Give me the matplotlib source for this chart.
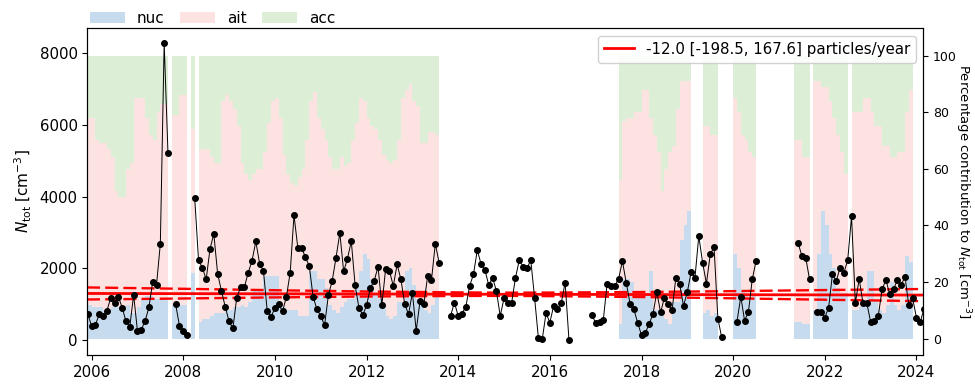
import numpy as np
import pandas as pd
import matplotlib
matplotlib.use('Agg')
import matplotlib.pyplot as plt
from matplotlib.patches import Patch

nan = np.nan

# #
# Data (monthly means, first month = Nov 2005)
# #
first_month = '2005-11'

n_tot = [
    720, 400, 425, 720, 660, 820, 1170, 1025, 1210, 905, 520, 375,          # 0-11
    1260, 260, 290, 530, 910, 1625, 1545, 2690, 8280, 5200, nan, 1000,       # 12-23
    400, 260, 145, nan, 3955, 2220, 2020, 1690, 2540, 2960, 1850, 1370,      # 24-35
    925, 520, 325, 1185, 1470, 1470, 1880, 2210, 2750, 2130, 1925, 800,      # 36-47
    655, 890, 1000, 800, 1205, 1880, 3480, 2570, 2570, 2305, 2065, 1205,     # 48-59
    860, 675, 410, 1250, 1650, 2295, 2985, 1915, 2270, 2755, 1530, 900,      # 60-71
    700, 965, 1460, 1650, 2045, 970, 1990, 1925, 1510, 2110, 1690, 1000,     # 72-83
    720, 1325, 260, 1090, 1000, 1785, 1675, 2685, 2160, nan, nan, 675,       # 84-95
    1045, 675, 740, 935, 1510, 1835, 2510, 2110, 1955, 1530, 1740, 1370,     # 96-107
    675, 1165, 1030, 1045, 1740, 2230, 2045, 2000, 2230, 1185, 50, 20,       # 108-119
    750, 490, 955, 860, 1045, 1600, 10, nan, nan, nan, nan, nan,             # 120-131
    710, 470, 510, 560, 1575, 1510, 1510, 1710, 2200, 1600, 1020, 860,       # 132-143
    480, 140, 195, 460, 720, 1340, 770, 1185, 1000, 830, 1740, 1555,         # 144-155
    955, 1340, 1900, 1740, 2900, 2160, 1575, 2390, 2590, 600, 75, nan,       # 156-167
    nan, nan, 510, 1210, 540, 790, 1695, 2205, nan, nan, nan, nan,           # 168-179
    nan, nan, nan, nan, nan, nan, 2710, 2345, 2300, 1695, nan, 770,          # 180-191
    770, 630, 905, 1835, 1650, 2020, 1880, 2230, 3450, 1030, 1710, 1030,     # 192-203
    1030, 510, 540, 675, 1415, 1675, 1280, 1415, 1675, 1530, 1770, 970,      # 204-215
    1160, 630, 510, 880,                                                     # 216-219
]

# percentage of N_tot in the nucleation mode
nuc_pct = [
    12, 12, 11, 11, 11, 10, 9, 11, 12, 11, 10, 12,
    9, 9, 11, 14, 15, 15, 14, 14, 14, 14, nan, 12,
    12, 12, 12, nan, 23, nan, 6, 7, 7, 8, 9, 9,
    9, 10, 10, 11, 11, 12, 11, 13, 17, 17, 17, 22,
    22, 22, 22, 11, 11, 10, 10, 10, 8, 8, 8, 24,
    24, 21, 21, 18, 12, 10, 9, 11, 13, 14, 14, 18,
    24, 30, 28, 21, 16, 14, 12, 8, 7, 8, 13, 13,
    24, 25, 19, 14, 13, 10, 9, 12, 16, nan, nan, nan,
    nan, nan, nan, nan, nan, nan, nan, nan, nan, nan, nan, nan,
    nan, nan, nan, nan, nan, nan, nan, nan, nan, nan, nan, nan,
    nan, nan, nan, nan, nan, nan, nan, nan, nan, nan, nan, nan,
    nan, nan, nan, nan, nan, nan, nan, nan, 5, 21, 21, 20,
    15, 15, 15, 15, 24, 10, 10, 10, 7, 5, 13, 13,
    35, 40, 45, nan, nan, nan, 9, 10, 8, 9, nan, nan,
    nan, nan, 30, 25, 17, 15, 14, 16, nan, nan, nan, nan,
    nan, nan, nan, nan, nan, nan, 6, 6, 5, 5, nan, 10,
    30, 45, 40, 30, 25, 18, 16, 16, nan, 10, 10, 11,
    12, 24, 24, 14, 10, 9, 12, 20, 12, 10, 12, 29,
    27, nan, nan, nan,
]

# cumulative percentage nucleation + Aitken (rest is accumulation)
nuc_ait_pct = [
    78, 78, 78, 70, 69, 69, 67, 64, 52, 50, 50, 60,
    62, 85, 85, 85, 78, 72, 70, 80, 83, 83, nan, 79,
    79, 86, 86, nan, 74, nan, 67, 67, 67, 64, 62, 62,
    84, 86, 84, 81, 75, 62, 58, 56, 58, 60, 60, 66,
    76, 84, 85, 78, 65, 58, 55, 54, 57, 60, 70, 84,
    87, 78, 74, 70, 64, 60, 60, 64, 61, 62, 70, 76,
    85, 84, 78, 75, 74, 70, 65, 63, 62, 63, 70, 85,
    88, 90, 84, 82, 69, 69, 73, 73, 72, nan, nan, nan,
    nan, nan, nan, nan, nan, nan, nan, nan, nan, nan, nan, nan,
    nan, nan, nan, nan, nan, nan, nan, nan, nan, nan, nan, nan,
    nan, nan, nan, nan, nan, nan, nan, nan, nan, nan, nan, nan,
    nan, nan, nan, nan, nan, nan, nan, nan, 56, 77, 78, 78,
    80, 80, 88, 88, 78, 72, 66, 52, 60, 66, 68, 81,
    91, 91, 91, nan, nan, nan, 75, 75, 72, 72, nan, nan,
    nan, nan, 85, 80, 72, 70, 66, 64, nan, nan, nan, nan,
    nan, nan, nan, nan, nan, nan, 70, 70, 64, 64, nan, 91,
    91, 89, 89, 84, 78, 72, 66, 58, nan, 80, 80, 80,
    85, 85, 80, 75, 75, 68, 68, 64, 64, 66, 66, 80,
    88, nan, nan, nan,
]

# linear trend and its confidence band (read at a few years)
trend_years = [2005.9, 2008, 2010, 2012, 2014, 2015, 2016, 2018, 2020, 2022, 2024.2]
trend_mid = [1300, 1295, 1290, 1285, 1280, 1277, 1275, 1270, 1265, 1260, 1255]
trend_half = [168, 135, 100, 70, 50, 45, 50, 70, 100, 135, 170]
trend_label = '-12.0 [-198.5, 167.6] particles/year'

mode_names = ['nuc', 'ait', 'acc']
mode_colors = ['#c6dbee', '#fde2e2', '#dcefd6']

# #
# Plot
# #

months = pd.period_range(first_month, periods=len(n_tot), freq='M')
t_end = np.asarray(months.year + months.month / 12.0, dtype=float)
t_start = t_end - 1.0 / 12.0

n_tot = np.array(n_tot, dtype=float)
nuc = np.array(nuc_pct, dtype=float)
nuc_ait = np.array(nuc_ait_pct, dtype=float)
ait = nuc_ait - nuc
acc = 100.0 - nuc_ait
has_bar = ~np.isnan(nuc)

fig = plt.figure(figsize=(9.75, 3.85), dpi=100)
ax = fig.add_axes([0.0895, 0.078, 0.8575, 0.849])
ax2 = ax.twinx()
ax.set_zorder(ax2.get_zorder() + 1)
ax.patch.set_visible(False)

# stacked percentage bars
b = t_start[has_bar]
w = 1.0 / 12.0
ax2.bar(b, nuc[has_bar], width=w, align='edge', color=mode_colors[0], linewidth=0)
ax2.bar(b, ait[has_bar], width=w, bottom=nuc[has_bar], align='edge', color=mode_colors[1], linewidth=0)
ax2.bar(b, acc[has_bar], width=w, bottom=nuc_ait[has_bar], align='edge', color=mode_colors[2], linewidth=0)
ax2.set_ylim(-5.8, 109.7)
ax2.set_yticks([0, 20, 40, 60, 80, 100])
ax2.tick_params(axis='y', labelsize=9)
ax2.set_ylabel(r'Percentage contribution to $N_{\mathrm{tot}}$ [cm$^{-3}$]',
               rotation=270, labelpad=11, fontsize=9.5)

# trend + band
mid = np.array(trend_mid, dtype=float)
half = np.array(trend_half, dtype=float)
ax.plot(trend_years, mid, color='red', lw=2, label=trend_label, zorder=2)
ax.plot(trend_years, mid + half, color='red', lw=1.7, ls=(0, (5.5, 2.2)), zorder=2)
ax.plot(trend_years, mid - half, color='red', lw=1.7, ls=(0, (5.5, 2.2)), zorder=2)

# monthly N_tot
ax.plot(t_end, n_tot, color='black', lw=0.7, marker='o', ms=4, zorder=3)

ax.set_xlim(2005.905, 2024.15)
ax.set_xticks(np.arange(2006, 2025, 2))
ax.set_xticklabels([str(y) for y in range(2006, 2025, 2)])
ax.set_yticks([0, 2000, 4000, 6000, 8000])
ax.set_ylim(-414, 8694)
ax.tick_params(labelsize=10.8)
ax.set_ylabel(r'$N_{\mathrm{tot}}$ [cm$^{-3}$]', fontsize=11)

ax.legend(loc='upper right', fontsize=10.8, framealpha=0.9)

handles = [Patch(facecolor=c, edgecolor='none') for c in mode_colors]
ax2.legend(handles, mode_names, loc='lower left', bbox_to_anchor=(0.0, 1.0),
           ncol=3, frameon=False, fontsize=11, borderaxespad=0.05,
           handlelength=2.3, columnspacing=1.0, borderpad=0.1)

fig.savefig('out.png', dpi=100)
